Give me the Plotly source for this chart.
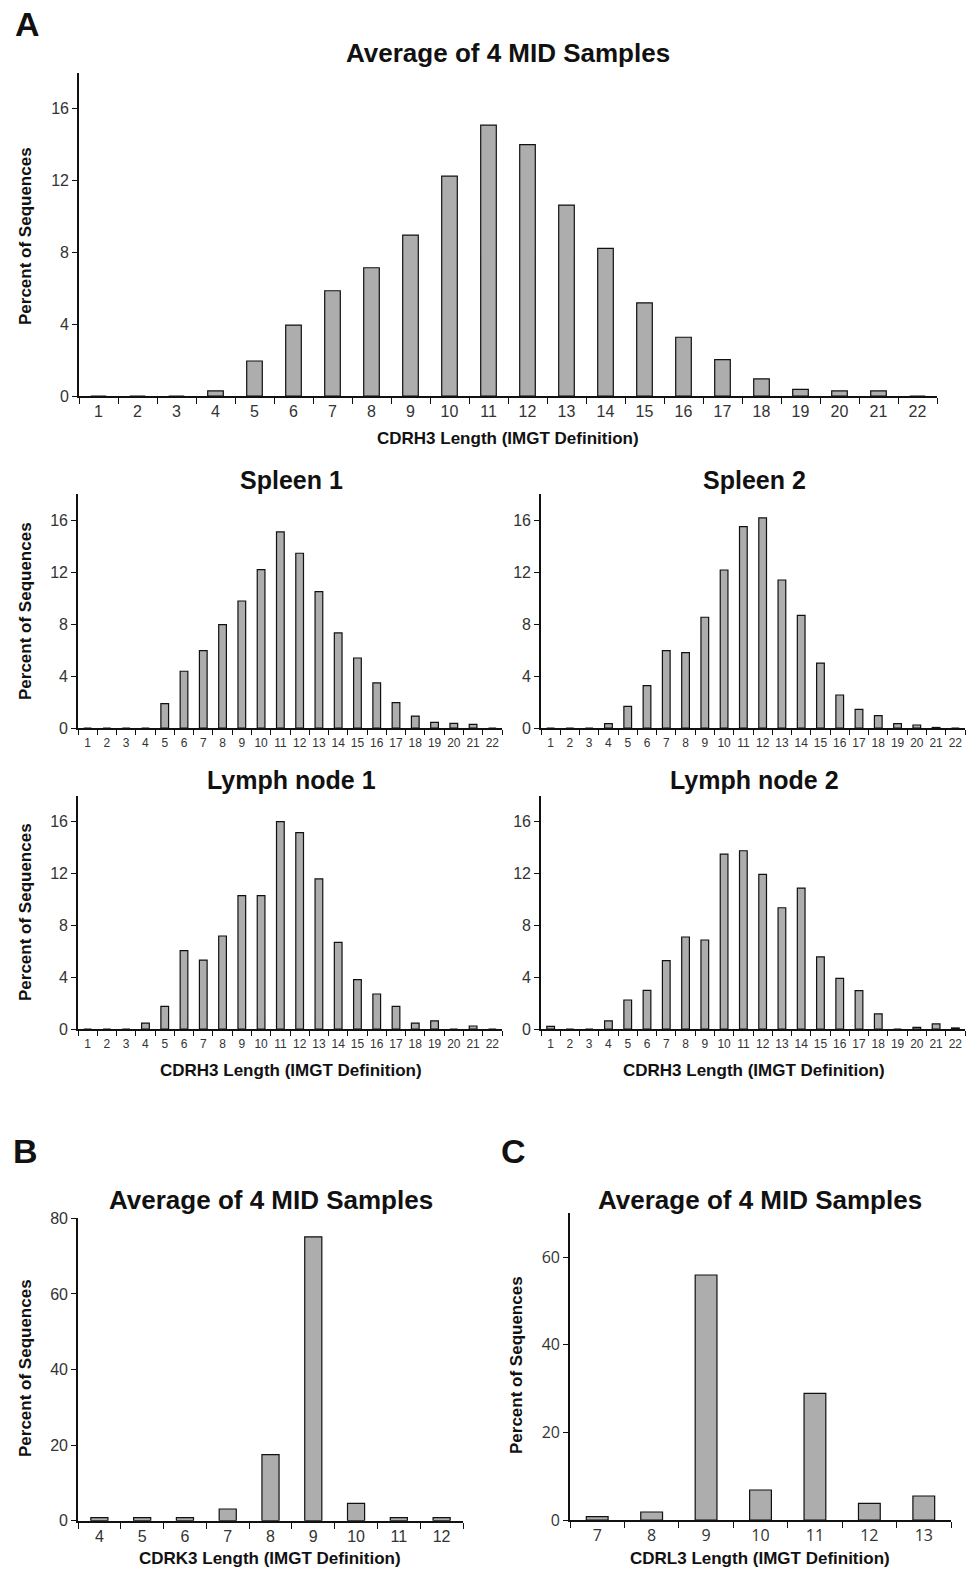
import plotly.graph_objects as go

# ---------------- data ----------------
cdrh3_lengths = [str(i) for i in range(1, 23)]
avg_cdrh3 = [0, 0, 0, 0.28, 1.95, 3.95, 5.86, 7.14, 8.96, 12.24, 15.08, 14.0, 10.63, 8.22,
             5.19, 3.27, 2.02, 0.95, 0.37, 0.28, 0.28, 0]
spleen1 = [0, 0, 0, 0, 1.87, 4.37, 5.96, 7.96, 9.78, 12.2, 15.1, 13.46, 10.5, 7.32,
           5.39, 3.47, 1.95, 0.92, 0.44, 0.36, 0.28, 0]
spleen2 = [0, 0, 0, 0.33, 1.67, 3.26, 5.96, 5.8, 8.53, 12.17, 15.51, 16.18, 11.4, 8.68,
           5.0, 2.54, 1.44, 0.95, 0.33, 0.23, 0.04, 0]
lymph1 = [0, 0, 0, 0.46, 1.75, 6.05, 5.32, 7.18, 10.29, 10.29, 16.0, 15.15, 11.58, 6.69,
          3.81, 2.7, 1.75, 0.46, 0.62, 0, 0.23, 0]
lymph2 = [0.2, 0, 0, 0.62, 2.24, 2.98, 5.27, 7.1, 6.87, 13.5, 13.76, 11.94, 9.36, 10.88,
          5.56, 3.91, 2.96, 1.16, 0, 0.13, 0.39, 0.08]
cdrk3_lengths = [str(i) for i in range(4, 13)]
avg_cdrk3 = [0.8, 0.8, 0.8, 3.1, 17.46, 75.1, 4.6, 0.8, 0.8]
cdrl3_lengths = [str(i) for i in range(7, 14)]
avg_cdrl3 = [0.76, 1.83, 55.9, 6.84, 28.9, 3.8, 5.48]

W, H = 977, 1575
BAR_FILL = "#adadad"
FONT = "Liberation Sans, Arial, sans-serif"


def px_x(x):
    return x / W


def px_y(y):
    return 1 - y / H


fig = go.Figure()
layout = dict(
    width=W, height=H, margin=dict(l=0, r=0, t=0, b=0, pad=0, autoexpand=False),
    paper_bgcolor="white", plot_bgcolor="white", showlegend=False,
    bargap=0.6, font=dict(family=FONT, color="#222"), template="none",
)
annotations = []

# (cats, values, x0, x1, y_zero_px, y_top_px, yrange, ytickvals, xfont, yfont, family, xticklen, xstandoff)
panels = [
    (cdrh3_lengths, avg_cdrh3, 79, 937, 396, 72.7, [0, 18], [0, 4, 8, 12, 16], 16, 16, FONT, 6, 0),
    (cdrh3_lengths, spleen1, 78, 502, 728, 494.3, [0, 18], [0, 4, 8, 12, 16], 12, 16, FONT, 5, 3),
    (cdrh3_lengths, spleen2, 541, 965, 728, 494.3, [0, 18], [0, 4, 8, 12, 16], 12, 16, FONT, 5, 3),
    (cdrh3_lengths, lymph1, 78, 502, 1029, 795.8, [0, 18], [0, 4, 8, 12, 16], 12, 16, FONT, 5, 3),
    (cdrh3_lengths, lymph2, 541, 965, 1029, 795.8, [0, 18], [0, 4, 8, 12, 16], 12, 16, FONT, 5, 3),
    (cdrk3_lengths, avg_cdrk3, 78, 463, 1520.7, 1218.3, [0, 80], [0, 20, 40, 60, 80], 16, 16, FONT, 6, 0),
    (cdrl3_lengths, avg_cdrl3, 570, 951, 1520, 1213.2, [0, 70], [0, 20, 40, 60], 16, 16,
     "Open Sans, DejaVu Sans, sans-serif", 6, 0),
]

for i, (cats, vals, x0, x1, yz, yt, yr, ytv, xfs, yfs, tfam, xtl, xso) in enumerate(panels):
    n = "" if i == 0 else str(i + 1)
    fig.add_trace(go.Bar(
        x=cats, y=vals, xaxis="x" + n, yaxis="y" + n,
        marker=dict(color=BAR_FILL, line=dict(color="#111", width=1.2)),
        hoverinfo="x+y",
    ))
    layout["xaxis" + n] = dict(
        domain=[px_x(x0), px_x(x1)], anchor="y" + n, type="category",
        showline=True, linecolor="#111", linewidth=1.6,
        ticks="outside", tickson="boundaries", ticklen=xtl, tickwidth=1.4, tickcolor="#111",
        tickangle=0, automargin=False, ticklabelstandoff=xso,
        tickfont=dict(size=xfs, family=tfam, color="#333"),
        showgrid=False, zeroline=False, fixedrange=True,
    )
    layout["yaxis" + n] = dict(
        domain=[px_y(yz), px_y(yt)], anchor="x" + n, range=yr,
        tickvals=ytv, showline=True, linecolor="#111", linewidth=1.6,
        ticks="outside", ticklen=5, tickwidth=1.4, tickcolor="#111",
        automargin=False,
        tickfont=dict(size=yfs, family=tfam, color="#333"),
        showgrid=False, zeroline=False, fixedrange=True,
    )


def text(x, y, s, size, angle=0, bold=True):
    annotations.append(dict(
        x=px_x(x), y=px_y(y), xref="paper", yref="paper",
        text=("<b>%s</b>" % s) if bold else s, showarrow=False,
        textangle=angle, xanchor="center", yanchor="middle",
        font=dict(size=size, family=FONT, color="#111"),
    ))


# panel letters
text(27, 24, "A", 34)
text(25, 1151, "B", 34)
text(513, 1151, "C", 34)

# titles
text(508, 53, "Average of 4 MID Samples", 26)
text(291, 480, "Spleen 1", 25)
text(754, 480, "Spleen 2", 25)
text(291, 780, "Lymph node 1", 25)
text(754, 780, "Lymph node 2", 25)
text(271, 1200, "Average of 4 MID Samples", 26)
text(760, 1200, "Average of 4 MID Samples", 26)

# x axis titles
text(508, 438, "CDRH3 Length (IMGT Definition)", 17)
text(291, 1070, "CDRH3 Length (IMGT Definition)", 17)
text(754, 1070, "CDRH3 Length (IMGT Definition)", 17)
text(270, 1558, "CDRK3 Length (IMGT Definition)", 17)
text(760, 1558, "CDRL3 Length (IMGT Definition)", 17)

# y axis titles
text(25, 236, "Percent of Sequences", 17, angle=-90)
text(25, 611, "Percent of Sequences", 17, angle=-90)
text(25, 912, "Percent of Sequences", 17, angle=-90)
text(25, 1368, "Percent of Sequences", 17, angle=-90)
text(516, 1365, "Percent of Sequences", 17, angle=-90)

layout["annotations"] = annotations
fig.update_layout(**layout)
fig.write_html("out.html", config={"displayModeBar": False},
               post_script="document.body.style.margin='0';document.body.style.padding='0';")
